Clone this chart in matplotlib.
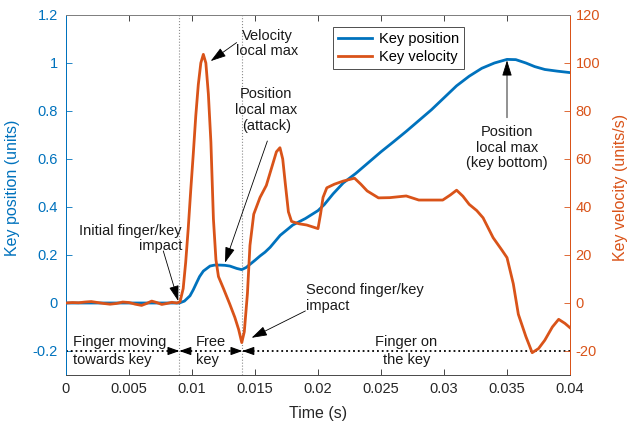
import matplotlib
matplotlib.use('Agg')
import matplotlib.pyplot as plt
from matplotlib.lines import Line2D

plt.rcParams['font.family'] = ['Liberation Sans', 'DejaVu Sans']

BLUE = '#0072BD'
ORANGE = '#D95319'
GRAY = '#262626'

# ---- data ----
pos_t = [0, 0.002, 0.004, 0.006, 0.008, 0.009, 0.0094, 0.00984, 0.0101, 0.01037, 0.0106,
         0.0109, 0.01143, 0.0118, 0.01222, 0.0126, 0.013, 0.01355, 0.01394, 0.0143, 0.0146,
         0.015, 0.0154, 0.0158, 0.0162, 0.017, 0.018, 0.019, 0.020, 0.0205, 0.0212, 0.022,
         0.0225, 0.023, 0.024, 0.025, 0.026, 0.027, 0.028, 0.029, 0.030, 0.031, 0.032, 0.033,
         0.034, 0.035, 0.0357, 0.0365, 0.0372, 0.038, 0.039, 0.040]
pos_v = [0, 0, 0, 0, 0, 0, 0.008, 0.03, 0.055, 0.085, 0.11,
         0.133, 0.154, 0.158, 0.158, 0.157, 0.154, 0.144, 0.139, 0.148, 0.161,
         0.178, 0.196, 0.212, 0.232, 0.282, 0.325, 0.352, 0.385, 0.41, 0.455, 0.50,
         0.52, 0.54, 0.585, 0.63, 0.672, 0.715, 0.76, 0.805, 0.855, 0.905, 0.945, 0.978,
         1.0, 1.015, 1.014, 1.0, 0.985, 0.973, 0.966, 0.96]

vel_t = [0, 0.0005, 0.001, 0.0015, 0.002, 0.0025, 0.003, 0.0035, 0.004, 0.0045, 0.005,
         0.0055, 0.006, 0.0064, 0.0068, 0.0072, 0.0076, 0.008, 0.0084, 0.0088, 0.00905,
         0.0093, 0.0095, 0.0097, 0.0099, 0.0101, 0.0103, 0.0105, 0.0107, 0.0109, 0.0111,
         0.0113, 0.0115, 0.0117, 0.0119, 0.0121, 0.0125, 0.013, 0.0134, 0.0137, 0.01395,
         0.01415, 0.0144, 0.0146, 0.0149, 0.0154, 0.0159, 0.0163, 0.0167, 0.01698, 0.0172,
         0.0174, 0.01765, 0.0179, 0.0185, 0.0191, 0.0197, 0.0200, 0.0202, 0.0204, 0.0207,
         0.0213, 0.022, 0.0229, 0.0234, 0.0239, 0.0248, 0.0257, 0.027, 0.028, 0.0299,
         0.0305, 0.031, 0.0315, 0.032, 0.0326, 0.0331, 0.0339, 0.0346, 0.035, 0.0355,
         0.0359, 0.0365, 0.037, 0.0375, 0.038, 0.0386, 0.0391, 0.0396, 0.040]
vel_v = [0, 0.2, 0.1, 0.4, 0.6, 0.2, -0.2, -0.5, -0.2, 0.4, 0.2,
         -0.5, -1.0, -0.2, 0.8, 0.2, -0.6, -0.2, 0.3, 0.0, 0.5,
         6, 17, 31, 47, 62, 78, 91, 100, 103.6, 100,
         87, 67, 35, 18, 11, 6, -0.5, -6, -11, -16.5,
         -12, 4, 24, 37, 44, 49, 56, 63, 64.7, 60,
         50, 38, 34, 33, 32.5, 31.5, 31, 37, 44, 48,
         49.5, 50.8, 52, 49.5, 46.7, 43.8, 43.9, 44.6, 42.9, 42.9,
         45, 47, 44.5, 41.1, 38.5, 35.5, 27.2, 22, 18.9, 8,
         -4.7, -14, -20.7, -19, -15.5, -10, -6.8, -8.5, -10.3]

x_ticks = [0, 0.005, 0.01, 0.015, 0.02, 0.025, 0.03, 0.035, 0.04]
x_labels = ['0', '0.005', '0.01', '0.015', '0.02', '0.025', '0.03', '0.035', '0.04']
pos_ticks = [-0.2, 0, 0.2, 0.4, 0.6, 0.8, 1.0, 1.2]
pos_labels = ['-0.2', '0', '0.2', '0.4', '0.6', '0.8', '1', '1.2']
vel_ticks = [-20, 0, 20, 40, 60, 80, 100, 120]
vel_labels = ['-20', '0', '20', '40', '60', '80', '100', '120']

impact1 = 0.009
impact2 = 0.014

# ---- figure ----
fig = plt.figure(figsize=(6.3, 4.21), dpi=100)
ax = fig.add_axes([66/630, 46/421, 504/630, 360/421])
ax2 = ax.twinx()

ax.set_xlim(0, 0.04)
ax.set_ylim(-0.3, 1.2)
ax2.set_ylim(-30, 120)

ax.axvline(impact1, color='0.55', ls=':', lw=0.8, zorder=1)
ax.axvline(impact2, color='0.55', ls=':', lw=0.8, zorder=1)

ax.plot(pos_t, pos_v, color=BLUE, lw=2, zorder=3)
ax2.plot(vel_t, vel_v, color=ORANGE, lw=2, zorder=3)

# ticks
ax.set_xticks(x_ticks)
ax.set_xticklabels(x_labels)
ax.set_yticks(pos_ticks)
ax.set_yticklabels(pos_labels)
ax2.set_yticks(vel_ticks)
ax2.set_yticklabels(vel_labels)

ax.tick_params(axis='x', direction='in', top=True, length=4, width=0.6,
               colors=GRAY, labelsize=10.5, pad=5)
ax.tick_params(axis='y', direction='in', length=4, width=0.6,
               colors=BLUE, labelsize=10.5, pad=6)
ax2.tick_params(axis='y', direction='in', length=4, width=0.6,
                colors=ORANGE, labelsize=10.5, pad=4)

for a in (ax, ax2):
    a.spines['top'].set_color('0.5')
    a.spines['bottom'].set_color('0.3')
    a.spines['left'].set_color(BLUE)
    a.spines['right'].set_color(ORANGE)
    for s in a.spines.values():
        s.set_linewidth(0.7)

ax.set_xlabel('Time (s)', fontsize=11.5, color=GRAY)
ax.xaxis.set_label_coords(0.5, -0.085)
ax.set_ylabel('Key position (units)', fontsize=11.5, color=BLUE)
ax.yaxis.set_label_coords(-0.092, 0.52)
ax2.set_ylabel('Key velocity (units/s)', fontsize=11.5, color=ORANGE)
ax2.yaxis.set_label_coords(1.085, 0.52)

# ---- phase spans at y=-0.2 ----
ax.plot([0, 0.04], [-0.2, -0.2], color='k', ls=':', lw=1.3, zorder=2)
head = dict(arrowstyle='-|>,head_length=0.7,head_width=0.25', color='k', lw=0.8,
            shrinkA=0, shrinkB=0, mutation_scale=10)
for xb, d in [(impact1, -1), (impact1, 1), (impact2, -1), (impact2, 1)]:
    ax.annotate('', xy=(xb, -0.2), xytext=(xb + d * 0.0006, -0.2), arrowprops=head, zorder=4)

txt = dict(fontsize=10.5, color='#1a1a1a', linespacing=1.15)
span = dict(fontsize=10.5, color='#1a1a1a', linespacing=1.4)
ax.text(0.00053, -0.2, 'Finger moving\ntowards key', ha='left', va='center', **span)
ax.text(0.0103, -0.2, 'Free\nkey', ha='left', va='center', **span)
ax.text(0.027, -0.2, 'Finger on\nthe key', ha='center', va='center', multialignment='center', **span)

# ---- annotations ----
arr = dict(arrowstyle='-|>,head_length=0.8,head_width=0.25', color='k', lw=0.6,
           shrinkA=0, shrinkB=0, mutation_scale=12)

ax.text(0.016, 1.081, 'Velocity\nlocal max', ha='center', va='center',
        multialignment='center', **txt)
ax.annotate('', xy=(0.01148, 1.008), xytext=(0.01354, 1.085), arrowprops=arr)

ax.text(0.0159, 0.804, 'Position\nlocal max\n(attack)', ha='center', va='center',
        multialignment='center', **txt)
ax.annotate('', xy=(0.01262, 0.168), xytext=(0.01598, 0.675), arrowprops=arr)

ax.text(0.0092, 0.269, 'Initial finger/key\nimpact', ha='right', va='center',
        multialignment='right', **txt)
ax.annotate('', xy=(0.00891, 0.008), xytext=(0.00772, 0.217), arrowprops=arr)

ax.text(0.01902, 0.022, 'Second finger/key\nimpact', ha='left', va='center',
        multialignment='left', **txt)
ax.annotate('', xy=(0.01473, -0.145), xytext=(0.019, -0.033), arrowprops=arr)

ax.text(0.035, 0.647, 'Position\nlocal max\n(key bottom)', ha='center', va='center',
        multialignment='center', **txt)
ax.annotate('', xy=(0.035, 1.011), xytext=(0.035, 0.772), arrowprops=arr)

# ---- legend ----
handles = [Line2D([], [], color=BLUE, lw=2), Line2D([], [], color=ORANGE, lw=2)]
leg = ax2.legend(handles, ['Key position', 'Key velocity'], loc='upper left',
                 bbox_to_anchor=(0.53, 0.967), borderaxespad=0, fontsize=10.5,
                 fancybox=False, edgecolor='0.3', framealpha=1, handlelength=2.3,
                 borderpad=0.35, labelspacing=0.25, handletextpad=0.5)
leg.get_frame().set_linewidth(0.7)

fig.savefig('out.png', dpi=100)
